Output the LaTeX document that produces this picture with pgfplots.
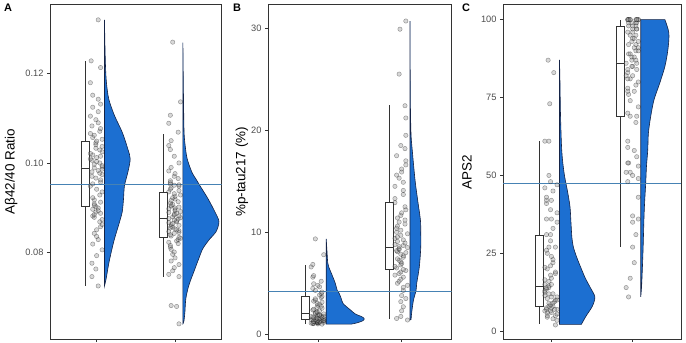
\documentclass[border=0pt]{standalone}
\usepackage{fontspec}
\setmainfont{Liberation Sans}
\usepackage{pgfplots}
\pgfplotsset{compat=1.18}
\usepgfplotslibrary{statistics}
\definecolor{vblue}{RGB}{28,111,209}
\definecolor{vedge}{RGB}{20,35,70}
\definecolor{hlinec}{RGB}{70,130,180}
\definecolor{framec}{RGB}{51,51,51}
\definecolor{ticklab}{RGB}{77,77,77}
\pgfplotsset{
  raincloud/.style={
    scale only axis, anchor=south west, height=334.3bp,
    xmin=0.405, xmax=2.595,
    xtick={1,2}, xticklabels={{},{}},
    tick align=outside, tick pos=left, major tick length=3bp,
    axis line style={framec, line width=0.8bp},
    tick style={framec, line width=0.6bp},
    tick label style={font=\fontsize{9.3}{10}\selectfont, text=ticklab},
    label style={font=\fontsize{13.5}{15}\selectfont},
    boxplot/draw direction=y,
  },
  pts/.style={only marks, mark=*, mark size=2.2bp,
    mark options={draw=black, fill=gray!85, draw opacity=0.38, fill opacity=0.36, line width=0.45bp}},
  vio/.style={fill=vblue, draw=vedge, line width=0.6bp, smooth, tension=0.5},
  bx/.style={draw=framec, fill=white, line width=0.6bp, solid, mark=none},
  hl/.style={hlinec, line width=0.8bp},
}
\begin{document}
\begin{tikzpicture}
\path[use as bounding box] (0,0) rectangle (686bp,343bp);
% ---------------- Panel A
\begin{axis}[raincloud, at={(50bp,4bp)}, width=171.7bp,
  ymin=0.0605, ymax=0.1355,
  ytick={0.08,0.10,0.12}, yticklabels={0.08,0.10,0.12},
  ylabel={Aβ42/40 Ratio},
  ylabel style={at={(axis description cs:-0.227,0.5)}, anchor=center}]
\addplot[bx, boxplot prepared={draw position=0.85, box extend=0.1, whisker extend=0,
  lower whisker=0.0724, lower quartile=0.0902, median=0.0989, upper quartile=0.1049, upper whisker=0.1229}] coordinates {};
\addplot[bx, boxplot prepared={draw position=1.85, box extend=0.1, whisker extend=0,
  lower whisker=0.0745, lower quartile=0.0833, median=0.0875, upper quartile=0.0935, upper whisker=0.1066}] coordinates {};
\addplot[pts] coordinates {
(1.02,0.0724)(0.94,0.0745)(0.99,0.0762)(0.94,0.0775)(1.00,0.0792)(1.07,0.0805)(0.95,0.0818)(1.02,0.0828)(1.00,0.0835)(0.97,0.0842)
(1.00,0.0850)(1.05,0.0857)(1.07,0.0862)(1.04,0.0868)(1.07,0.0873)(0.97,0.0878)(0.95,0.0881)(0.97,0.0884)(1.05,0.0887)(0.99,0.0890)
(1.02,0.0893)(0.95,0.0896)(1.02,0.0899)(0.99,0.0902)(0.97,0.0905)(0.97,0.0908)(1.05,0.0912)(0.97,0.0917)(0.95,0.0922)(1.04,0.0928)
(1.07,0.0935)(1.00,0.0941)(0.92,0.0948)(0.95,0.0953)(1.05,0.0957)(1.05,0.0962)(0.99,0.0966)(0.94,0.0970)(1.07,0.0974)(1.04,0.0977)
(0.94,0.0980)(1.02,0.0983)(1.07,0.0986)(0.97,0.0989)(1.07,0.0991)(1.07,0.0994)(0.97,0.0997)(1.04,0.1000)(1.00,0.1003)(0.94,0.1006)
(0.92,0.1009)(1.00,0.1012)(1.05,0.1015)(0.95,0.1018)(0.92,0.1021)(1.07,0.1025)(1.04,0.1029)(0.99,0.1033)(1.07,0.1037)(0.99,0.1041)
(0.99,0.1045)(1.00,0.1049)(1.07,0.1053)(0.95,0.1057)(0.97,0.1062)(0.92,0.1066)(1.04,0.1071)(1.05,0.1077)(0.94,0.1083)(1.02,0.1090)
(0.99,0.1097)(0.92,0.1105)(1.02,0.1115)(0.95,0.1125)(1.05,0.1132)(1.02,0.1143)(0.95,0.1152)(0.92,0.1180)(1.05,0.1214)(0.93,0.1229)(1.02,0.1321)};
\addplot[pts] coordinates {
(2.05,0.0639)(2.02,0.0678)(1.95,0.0680)(2.05,0.0745)(1.92,0.0750)(1.97,0.0758)(1.99,0.0765)(2.05,0.0772)(1.95,0.0780)
(2.00,0.0787)(1.97,0.0795)(1.99,0.0800)(1.95,0.0806)(1.94,0.0811)(1.94,0.0815)(2.04,0.0819)(1.92,0.0822)(2.02,0.0825)(2.04,0.0828)
(2.07,0.0831)(2.05,0.0833)(1.95,0.0836)(1.94,0.0839)(1.99,0.0842)(2.05,0.0844)(1.92,0.0846)(2.05,0.0848)(2.02,0.0850)(2.00,0.0852)
(1.94,0.0854)(1.97,0.0856)(1.95,0.0858)(2.05,0.0860)(1.95,0.0862)(1.97,0.0864)(1.92,0.0866)(2.02,0.0868)(2.02,0.0870)(1.99,0.0872)
(2.04,0.0874)(1.92,0.0875)(2.07,0.0877)(1.97,0.0879)(2.05,0.0881)(1.99,0.0883)(1.99,0.0885)(2.02,0.0887)(1.92,0.0889)(2.07,0.0891)
(2.00,0.0893)(2.00,0.0895)(1.92,0.0897)(2.00,0.0899)(2.05,0.0901)(1.95,0.0903)(1.95,0.0905)(1.97,0.0907)(1.94,0.0910)(2.04,0.0913)
(1.95,0.0916)(2.00,0.0919)(1.97,0.0922)(2.00,0.0925)(2.07,0.0928)(1.99,0.0931)(1.92,0.0935)(2.05,0.0938)(1.94,0.0941)(1.95,0.0944)
(2.05,0.0948)(1.99,0.0950)(2.05,0.0951)(1.94,0.0953)(1.94,0.0956)(1.94,0.0960)(2.04,0.0965)(1.99,0.0970)(2.00,0.0976)(1.92,0.0982)
(1.95,0.0990)(2.05,0.1000)(1.99,0.1015)(1.94,0.1030)(1.92,0.1039)(1.95,0.1050)(2.04,0.1069)(1.92,0.1089)(1.94,0.1107)(2.07,0.1137)
(1.97,0.1271)};
\addplot[vio] coordinates {
(1.1,0.0724)(1.104,0.0727)(1.122,0.0741)(1.151,0.0771)(1.186,0.0800)(1.228,0.0830)(1.279,0.0860)(1.326,0.0890)(1.343,0.0920)
(1.355,0.0949)(1.398,0.0979)(1.428,0.1009)(1.398,0.1031)(1.326,0.1069)(1.228,0.1106)(1.155,0.1143)(1.125,0.1180)(1.113,0.1217)
(1.105,0.1270)(1.1,0.1321)} -- cycle;
\addplot[vio] coordinates {
(2.1,0.0639)(2.113,0.0645)(2.126,0.0666)(2.138,0.0696)(2.177,0.0726)(2.240,0.0756)(2.304,0.0786)(2.355,0.0808)(2.445,0.0830)
(2.521,0.0845)(2.560,0.0868)(2.509,0.0890)(2.419,0.0920)(2.317,0.0949)(2.266,0.0964)(2.215,0.0979)(2.155,0.1009)(2.129,0.1039)
(2.115,0.1069)(2.108,0.1143)(2.1,0.1270)} -- cycle;
\addplot[hl] coordinates {(0.405,0.0951)(2.595,0.0951)};
\end{axis}
% ---------------- Panel B
\begin{axis}[raincloud, at={(268bp,4bp)}, width=183.5bp,
  ymin=-0.46, ymax=32.3,
  ytick={0,10,20,30}, yticklabels={0,10,20,30},
  ylabel={\%p-tau217 (\%)},
  ylabel style={at={(axis description cs:-0.142,0.5)}, anchor=center}]
\addplot[bx, boxplot prepared={draw position=0.85, box extend=0.1, whisker extend=0,
  lower whisker=1.0, lower quartile=1.46, median=2.05, upper quartile=3.74, upper whisker=6.8}] coordinates {};
\addplot[bx, boxplot prepared={draw position=1.85, box extend=0.1, whisker extend=0,
  lower whisker=1.5, lower quartile=6.35, median=8.49, upper quartile=12.89, upper whisker=22.45}] coordinates {};
\addplot[pts] coordinates {
(1.05,1.00)(1.00,1.02)(0.95,1.05)(0.94,1.07)(0.94,1.08)(0.92,1.10)(1.00,1.12)(1.00,1.13)(1.00,1.15)
(1.07,1.17)(1.02,1.18)(0.99,1.20)(0.99,1.22)(1.02,1.24)(0.95,1.25)(0.95,1.27)(1.07,1.29)(0.99,1.30)(1.05,1.32)
(1.07,1.34)(1.00,1.36)(0.99,1.38)(1.07,1.40)(0.97,1.42)(0.92,1.44)(0.97,1.46)(1.05,1.48)(0.94,1.50)(1.07,1.53)
(1.02,1.55)(0.99,1.58)(0.99,1.60)(0.95,1.62)(1.05,1.65)(1.05,1.68)(0.94,1.70)(0.92,1.73)(1.07,1.76)(1.04,1.80)
(1.00,1.83)(1.02,1.87)(1.02,1.90)(1.00,1.95)(1.07,2.00)(0.97,2.05)(0.97,2.10)(0.99,2.15)(0.99,2.22)(1.02,2.30)
(0.94,2.38)(0.95,2.45)(1.05,2.55)(0.99,2.65)(1.04,2.75)(1.00,2.85)(1.02,2.95)(0.99,3.05)(1.05,3.15)(0.95,3.25)
(0.97,3.35)(0.97,3.48)(1.04,3.60)(1.05,3.72)(1.02,3.85)(1.04,4.00)(1.05,4.15)(0.97,4.30)(0.94,4.50)(1.02,4.65)
(1.00,4.80)(0.95,4.95)(1.04,5.20)(0.94,5.60)(0.95,5.75)(0.92,6.60)(0.94,6.85)(1.07,7.80)(0.97,9.35)};
\addplot[pts] coordinates {
(2.07,1.40)(1.94,1.55)(1.99,1.75)(2.00,2.30)(2.02,2.70)(1.99,3.20)(2.05,3.50)(2.00,3.80)(2.02,4.30)(2.02,4.60)(2.07,4.80)
(1.95,5.00)(1.97,5.20)(1.99,5.40)(2.02,5.60)(1.92,5.80)(1.97,5.95)(1.99,6.10)(2.05,6.25)(2.02,6.35)(1.94,6.50)
(1.92,6.65)(1.99,6.80)(2.00,6.95)(1.99,7.10)(1.97,7.25)(1.95,7.40)(2.02,7.55)(2.02,7.70)(1.99,7.85)(2.05,8.00)
(1.95,8.10)(1.94,8.20)(1.97,8.30)(1.97,8.40)(2.07,8.50)(1.97,8.60)(2.02,8.70)(1.92,8.80)(2.04,8.95)(1.95,9.10)
(2.02,9.25)(1.92,9.40)(1.95,9.55)(1.99,9.70)(2.07,9.85)(1.94,10.00)(1.99,10.20)(1.94,10.40)(1.95,10.60)(2.04,10.80)
(1.97,11.00)(2.04,11.20)(1.95,11.40)(1.99,11.65)(2.00,11.90)(2.05,12.20)(2.04,12.50)(1.92,12.90)(1.92,13.30)(2.02,13.70)
(2.02,14.10)(1.92,14.50)(2.02,14.90)(1.97,15.30)(1.94,15.60)(2.00,15.90)(2.00,16.20)(2.05,16.60)(2.05,17.00)(1.94,17.50)
(2.04,18.20)(1.99,18.50)(2.05,19.50)(2.05,21.20)(2.04,22.40)(1.97,25.50)(1.98,29.90)(2.05,30.70)};
\addplot[vio] coordinates {
(1.399,1.0)(1.458,1.1)(1.530,1.3)(1.554,1.5)(1.530,1.7)(1.446,2.0)(1.387,2.4)(1.303,3.0)(1.279,3.5)(1.255,4.0)
(1.231,4.3)(1.208,5.0)(1.160,6.0)(1.130,6.6)(1.118,7.0)(1.110,8.0)(1.1,9.35)} -- (axis cs:1.1,1.0) -- cycle;
\addplot[vio] coordinates {
(2.1,1.4)(2.112,1.45)(2.118,2.0)(2.140,3.3)(2.172,4.3)(2.180,5.0)(2.211,6.6)(2.228,8.5)(2.228,10.0)(2.224,11.2)
(2.192,13.1)(2.160,15.1)(2.127,18.0)(2.112,19.6)(2.104,22.9)(2.1,30.7)} -- cycle;
\addplot[hl] coordinates {(0.405,4.17)(2.595,4.17)};
\end{axis}
% ---------------- Panel C
\begin{axis}[raincloud, at={(503bp,4bp)}, width=178bp,
  ymin=-2.5, ymax=104.8,
  ytick={0,25,50,75,100}, yticklabels={0,25,50,75,100},
  ylabel={APS2},
  ylabel style={at={(axis description cs:-0.202,0.5)}, anchor=center}]
\addplot[bx, boxplot prepared={draw position=0.85, box extend=0.1, whisker extend=0,
  lower whisker=2.25, lower quartile=8.0, median=14.3, upper quartile=30.9, upper whisker=60.9}] coordinates {};
\addplot[bx, boxplot prepared={draw position=1.85, box extend=0.1, whisker extend=0,
  lower whisker=27.1, lower quartile=68.9, median=86.1, upper quartile=97.9, upper whisker=99.8}] coordinates {};
\addplot[pts] coordinates {
(1.05,2)(1.07,3.5)(1.02,4)(0.95,4.5)(1.05,5)(0.95,5)(1.07,5.5)(0.95,6)(1.00,6)(0.99,6.5)
(0.92,6.5)(1.07,7)(0.94,7)(1.04,7)(0.94,7.5)(1.00,7.5)(0.97,8)(1.02,8)(0.99,8.5)(0.97,9)
(1.02,9)(1.04,9.5)(1.05,10)(1.07,10)(0.95,10.5)(1.00,11)(1.07,11)(0.92,11.5)(0.97,12)(1.02,12)
(0.92,12.5)(0.92,13)(0.94,13.5)(0.94,14)(0.97,14)(0.97,14.5)(0.92,15)(1.00,15)(0.97,16)(0.92,16.5)
(1.00,17)(0.99,18)(1.05,18.5)(1.05,19)(0.95,20)(0.92,20.5)(0.99,21)(1.02,22)(1.02,23)(1.00,24)
(0.95,25)(0.94,26)(0.97,27)(1.05,27)(0.99,29)(0.94,31)(0.99,31)(1.02,33)(1.07,35)(1.00,36)
(0.94,36)(1.07,38)(0.99,39)(0.94,41)(1.00,42)(0.94,42)(0.94,43)(1.02,45)(0.92,46)(1.07,47)
(0.99,48)(0.97,50)(0.97,61)(0.92,61)(0.98,73)(1.03,83)(0.96,87)};
\addplot[pts] coordinates {
(1.95,11)(1.92,14)(1.97,17)(2.02,22)(2.00,27)(2.04,31)(2.00,35)(2.07,36)(2.00,37)(2.07,43)
(1.94,48)(2.07,49)(2.00,50)(1.97,51)(1.92,51)(2.07,53)(1.95,54)(1.94,54)(2.05,56)(2.02,58)
(1.94,59)(1.94,61)(2.04,67)(1.97,69)(2.05,69)(1.94,70)(2.07,72)(1.97,74)(1.95,76)(2.02,77)
(1.94,77)(1.94,78)(2.04,79)(2.07,80)(1.97,81)(1.94,81)(1.92,82)(2.00,82)(1.94,83)(1.94,84)
(2.05,84)(2.00,85)(1.99,85)(2.05,86)(1.92,86)(2.04,87)(1.99,87)(1.99,88)(2.02,88)(1.95,89)
(1.97,89)(2.04,90)(2.07,90)(2.07,91)(2.02,91)(1.95,92)(2.04,92)(1.99,93)(2.07,93)(2.00,94)
(2.02,94)(2.04,95)(1.97,95)(2.00,96)(1.94,96)(2.05,97)(2.05,97)(2.00,97)(2.04,98)(2.00,98)
(1.95,98)(2.04,99)(1.95,99)(1.99,99)(2.05,99)(2.07,100)(1.94,100)(1.95,100)(1.95,100)(2.04,100)
(2.07,100)(1.97,100)(2.05,100)(1.94,100)(2.05,100)(1.97,100)};
\addplot[vio] coordinates {
(1.369,2.2)(1.43,5.0)(1.504,8.0)(1.535,11.0)(1.479,14.0)(1.418,17.0)(1.369,20.0)(1.308,24.0)(1.271,27.0)(1.253,30.0)
(1.241,35.0)(1.229,40.0)(1.198,45.0)(1.161,50.0)(1.137,55.0)(1.124,60.0)(1.112,70.0)(1.106,80.0)(1.1,87.1)} -- (axis cs:1.1,2.2) -- cycle;
\addplot[vio] coordinates {
(2.1,11)(2.112,15.3)(2.128,26)(2.14,36.8)(2.149,42.1)(2.161,47.5)(2.17,52.8)(2.186,58.2)(2.194,63.6)(2.222,68.9)
(2.263,74.3)(2.333,79.6)(2.397,85)(2.434,90.4)(2.446,95.7)(2.397,100)} -- (axis cs:2.1,100) -- cycle;
\addplot[hl] coordinates {(0.405,47.6)(2.595,47.6)};
\end{axis}
\node[font=\bfseries\fontsize{11}{12}\selectfont] at (8bp,335bp) {A};
\node[font=\bfseries\fontsize{11}{12}\selectfont] at (237bp,335bp) {B};
\node[font=\bfseries\fontsize{11}{12}\selectfont] at (466bp,335bp) {C};
\end{tikzpicture}
\end{document}
